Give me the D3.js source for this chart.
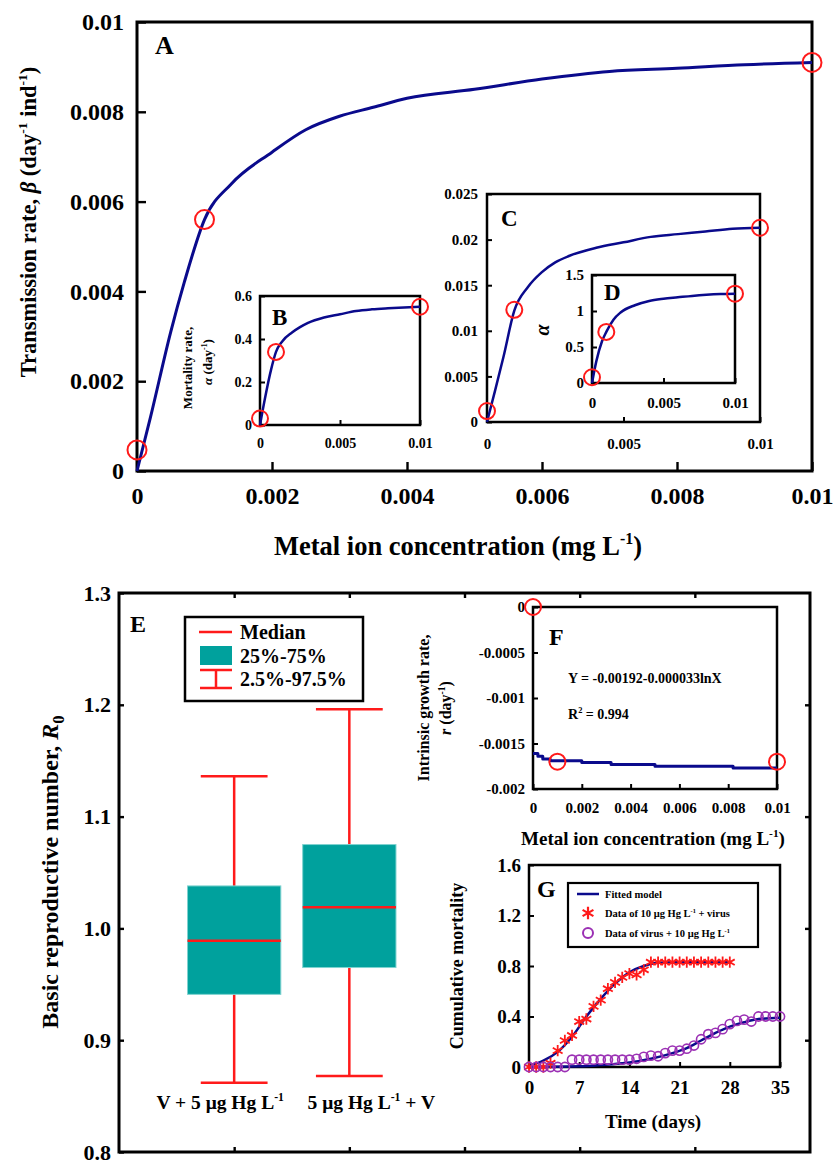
<!DOCTYPE html>
<html>
<head>
<meta charset="utf-8" />
<title>Hg virus model</title>
<script src="https://cdn.jsdelivr.net/npm/d3@7"></script>
<style>
body { margin: 0; background: #fff; }
svg text { font-family: "Liberation Serif", "Times New Roman", serif; font-weight: bold; fill: #000; }
</style>
</head>
<body>
<svg width="837" height="1167"></svg>
<script>
// ---- data ----
var concA = [0, 0.0002, 0.0005, 0.0007, 0.001, 0.0014, 0.002, 0.0025, 0.003, 0.0035, 0.004, 0.005, 0.006, 0.007, 0.008, 0.009, 0.01];
var betaA = [0, 0.0012, 0.0031, 0.0042, 0.0056, 0.0064, 0.0071, 0.0076, 0.0079, 0.0081, 0.0083, 0.0085, 0.00873, 0.0089, 0.00897, 0.00905, 0.0091];
var obsConc = [0, 0.001, 0.01];
var obsBetaA = [0.00047, 0.0056, 0.0091];

var concB = [0, 0.0003, 0.0007, 0.001, 0.0014, 0.002, 0.0025, 0.003, 0.004, 0.005, 0.006, 0.007, 0.008, 0.009, 0.01];
var alphaB = [0, 0.12, 0.26, 0.34, 0.39, 0.43, 0.455, 0.475, 0.5, 0.515, 0.53, 0.538, 0.543, 0.547, 0.55];
var obsAlphaB = [0.03, 0.34, 0.55];

var concC = [0, 0.0003, 0.0006, 0.001, 0.0015, 0.002, 0.0025, 0.003, 0.004, 0.005, 0.006, 0.007, 0.008, 0.009, 0.01];
var betaC = [0, 0.0035, 0.0071, 0.0122, 0.0148, 0.0164, 0.0175, 0.0182, 0.0191, 0.0197, 0.0203, 0.0206, 0.0209, 0.0212, 0.0213];
var obsBetaC = [0.0012, 0.0123, 0.0213];

var concD = [0, 0.0003, 0.0007, 0.001, 0.0015, 0.002, 0.003, 0.004, 0.005, 0.006, 0.007, 0.008, 0.009, 0.01];
var alphaD = [0, 0.3, 0.58, 0.71, 0.88, 0.98, 1.08, 1.14, 1.17, 1.19, 1.21, 1.225, 1.235, 1.24];
var obsAlphaD = [0.08, 0.71, 1.24];

var groupsE = ["V + 5 μg Hg L-1", "5 μg Hg L-1 + V"];
var p025 = [0.862, 0.868];
var q25 = [0.941, 0.965];
var medianE = [0.989, 1.019];
var q75 = [1.038, 1.075];
var p975 = [1.136, 1.196];

var concF = [0, 0.0002, 0.0004, 0.0007, 0.002, 0.0032, 0.005, 0.0082, 0.01];
var rF = [-0.00161, -0.00164, -0.00167, -0.00169, -0.00171, -0.00173, -0.00175, -0.00177, -0.00177];
var obsRF = [0, -0.0017, -0.0017];

var daysHg = d3.range(0, 29);
var mortHg = [0, 0, 0, 0.03, 0.13, 0.21, 0.25, 0.36, 0.38, 0.48, 0.53, 0.62, 0.67, 0.71, 0.74, 0.73, 0.77, 0.83,
  0.83, 0.83, 0.83, 0.83, 0.83, 0.83, 0.83, 0.83, 0.83, 0.83, 0.83];
var daysV = d3.range(0, 36);
var mortV = [0, 0, 0, 0, 0, 0, 0.058, 0.058, 0.058, 0.058, 0.058, 0.058, 0.058, 0.058, 0.058, 0.065, 0.08, 0.09,
  0.085, 0.11, 0.13, 0.13, 0.145, 0.17, 0.22, 0.26, 0.27, 0.30, 0.34, 0.365, 0.375, 0.36, 0.40, 0.40, 0.40, 0.40];
var fitDaysHg = [0, 2, 4, 6, 8, 10, 12, 14, 16, 18, 20, 22, 24, 26, 28];
var fitHg = [0.01, 0.05, 0.12, 0.24, 0.40, 0.54, 0.66, 0.75, 0.80, 0.825, 0.83, 0.83, 0.83, 0.83, 0.83];
var fitDaysV = [0, 7, 10, 14, 17, 20, 22, 24, 26, 28, 30, 32, 35];
var fitV = [0, 0.005, 0.015, 0.035, 0.065, 0.11, 0.15, 0.21, 0.27, 0.32, 0.355, 0.38, 0.39];

var NAVY = "#0a0a8c", RED = "#ff1a1a", TEAL = "#00a19d", PURPLE = "#9b30b4";

var svg = d3.select("svg");
var num = function (d) { return String(+d.toFixed(5)); };

// text with superscripts / italics / subscripts
function rich(sel, parts, fs) {
  var shift = 0;
  parts.forEach(function (p) {
    var t = sel.append("tspan");
    var want = 0, txt = p;
    if (typeof p !== "string") {
      if (p.sup !== undefined) { want = -fs * 0.4; txt = p.sup; t.attr("font-size", fs * 0.6); }
      else if (p.sub !== undefined) { want = fs * 0.25; txt = p.sub; t.attr("font-size", fs * 0.7); }
      else if (p.it !== undefined) { txt = p.it; t.attr("font-style", "italic"); }
    }
    if (want !== shift) { t.attr("dy", want - shift); shift = want; }
    t.text(txt);
  });
  return sel;
}
function label(x, y, parts, fs, opts) {
  opts = opts || {};
  var t = svg.append("text").attr("font-size", fs).attr("text-anchor", opts.anchor || "middle");
  if (opts.rotate) t.attr("transform", "translate(" + x + "," + y + ") rotate(-90)");
  else t.attr("x", x).attr("y", y);
  return rich(t, parts, fs);
}

// a framed panel with inward ticks
function panel(o) {
  var x = d3.scaleLinear().domain(o.xDomain).range(o.xRange);
  var y = d3.scaleLinear().domain(o.yDomain).range(o.yRange);
  var g = svg.append("g");
  g.append("rect")
    .attr("x", o.xRange[0]).attr("y", o.yRange[1])
    .attr("width", o.xRange[1] - o.xRange[0]).attr("height", o.yRange[0] - o.yRange[1])
    .attr("fill", "#fff");
  var gx = g.append("g").attr("transform", "translate(0," + o.yRange[0] + ")")
    .call(d3.axisBottom(x).tickValues(o.xTicks).tickSize(-o.tick).tickPadding(o.xPad)
      .tickFormat(o.xFmt || num));
  var gy = g.append("g").attr("transform", "translate(" + o.xRange[0] + ",0)")
    .call(d3.axisLeft(y).tickValues(o.yTicks).tickSize(-o.tick).tickPadding(o.yPad)
      .tickFormat(o.yFmt || num));
  [gx, gy].forEach(function (a) {
    a.select(".domain").remove();
    a.attr("font-size", o.fs).attr("font-family", null);
    a.selectAll("line").attr("stroke", "#000").attr("stroke-width", o.sw * 0.8);
  });
  g.append("rect")
    .attr("x", o.xRange[0]).attr("y", o.yRange[1])
    .attr("width", o.xRange[1] - o.xRange[0]).attr("height", o.yRange[0] - o.yRange[1])
    .attr("fill", "none").attr("stroke", "#000").attr("stroke-width", o.sw);
  return { x: x, y: y, g: g, gx: gx, gy: gy };
}

function curve(p, xs, ys, color, w, kind) {
  p.g.append("path")
    .datum(d3.zip(xs, ys))
    .attr("fill", "none").attr("stroke", color).attr("stroke-width", w)
    .attr("stroke-linejoin", "round")
    .attr("d", d3.line().x(function (d) { return p.x(d[0]); }).y(function (d) { return p.y(d[1]); })
      .curve(kind || d3.curveMonotoneX));
}
function rings(p, xs, ys, r, color, w) {
  p.g.selectAll(null).data(d3.zip(xs, ys)).enter().append("circle")
    .attr("cx", function (d) { return p.x(d[0]); }).attr("cy", function (d) { return p.y(d[1]); })
    .attr("r", r).attr("fill", "none").attr("stroke", color).attr("stroke-width", w);
}

// ---- panel A ----
var A = panel({ xDomain: [0, 0.01], xRange: [137, 812], yDomain: [0, 0.01], yRange: [471, 22],
  xTicks: [0, 0.002, 0.004, 0.006, 0.008, 0.01], yTicks: [0, 0.002, 0.004, 0.006, 0.008, 0.01],
  tick: 9, xPad: 16, yPad: 13, fs: 24, sw: 3 });
curve(A, concA, betaA, NAVY, 3);
rings(A, obsConc, obsBetaA, 9.5, RED, 2);
label(155, 54, ["A"], 26, { anchor: "start" });
label(36, 222, ["Transmission rate, ", { it: "β" }, " (day", { sup: "-1" }, " ind", { sup: "-1" }, ")"], 22.5, { rotate: true });
label(458, 555, ["Metal ion concentration (mg L", { sup: "-1" }, ")"], 26.5);

// ---- inset B ----
var B = panel({ xDomain: [0, 0.01], xRange: [260, 420], yDomain: [0, 0.6], yRange: [425, 296],
  xTicks: [0, 0.005, 0.01], yTicks: [0, 0.2, 0.4, 0.6], tick: 5, xPad: 13, yPad: 8, fs: 14, sw: 2.5 });
curve(B, concB, alphaB, NAVY, 2.5);
rings(B, obsConc, obsAlphaB, 8, RED, 2);
label(272, 325, ["B"], 23, { anchor: "start" });
label(192, 368, ["Mortality rate,"], 13, { rotate: true });
label(212, 362, [{ it: "α" }, " (day", { sup: "-1" }, ")"], 13, { rotate: true });

// ---- inset C ----
var C = panel({ xDomain: [0, 0.01], xRange: [487, 760], yDomain: [0, 0.025], yRange: [422, 194],
  xTicks: [0, 0.005, 0.01], yTicks: [0, 0.005, 0.01, 0.015, 0.02, 0.025], tick: 5, xPad: 16, yPad: 9, fs: 15, sw: 2.5 });
curve(C, concC, betaC, NAVY, 2.5);
rings(C, obsConc, obsBetaC, 8, RED, 2);
label(501, 226, ["C"], 23, { anchor: "start" });

// ---- inset D ----
var D = panel({ xDomain: [0, 0.01], xRange: [592, 735], yDomain: [0, 1.5], yRange: [383, 275],
  xTicks: [0, 0.005, 0.01], yTicks: [0, 0.5, 1, 1.5], tick: 5, xPad: 14, yPad: 8, fs: 15, sw: 2.5 });
curve(D, concD, alphaD, NAVY, 2.5);
rings(D, obsConc, obsAlphaD, 8, RED, 2);
label(604, 300, ["D"], 23, { anchor: "start" });
label(549, 330, [{ it: "α" }], 20, { rotate: true });

// ---- panel E (outer frame) ----
var E = panel({ xDomain: [0, 6], xRange: [119, 810], yDomain: [0.8, 1.3], yRange: [1152, 593],
  xTicks: [1, 2, 3, 4, 5], yTicks: [0.8, 0.9, 1.0, 1.1, 1.2, 1.3], tick: 5, xPad: 8, yPad: 8, fs: 22, sw: 3,
  xFmt: function () { return ""; }, yFmt: d3.format(".1f") });
// mirrored ticks on top and right
E.g.append("g").attr("transform", "translate(0,593)")
  .call(d3.axisTop(E.x).tickValues([1, 2, 3, 4, 5]).tickSize(-5).tickFormat(""))
  .call(function (a) { a.select(".domain").remove(); a.selectAll("line").attr("stroke-width", 2.4); });
E.g.append("g").attr("transform", "translate(810,0)")
  .call(d3.axisRight(E.y).tickValues([0.9, 1.0, 1.1, 1.2]).tickSize(-5).tickFormat(""))
  .call(function (a) { a.select(".domain").remove(); a.selectAll("line").attr("stroke-width", 2.4); });

var boxW = 0.81, capW = 0.58;
groupsE.forEach(function (gname, i) {
  var c = i + 1;
  var bx = E.g.append("g");
  bx.append("line").attr("x1", E.x(c)).attr("x2", E.x(c)).attr("y1", E.y(p025[i])).attr("y2", E.y(p975[i]))
    .attr("stroke", RED).attr("stroke-width", 2.5);
  [p025[i], p975[i]].forEach(function (v) {
    bx.append("line").attr("x1", E.x(c - capW / 2)).attr("x2", E.x(c + capW / 2))
      .attr("y1", E.y(v)).attr("y2", E.y(v)).attr("stroke", RED).attr("stroke-width", 2.5);
  });
  bx.append("rect").attr("x", E.x(c - boxW / 2)).attr("width", E.x(c + boxW / 2) - E.x(c - boxW / 2))
    .attr("y", E.y(q75[i])).attr("height", E.y(q25[i]) - E.y(q75[i]))
    .attr("fill", TEAL).attr("stroke", "#7fd3d0").attr("stroke-width", 1);
  bx.append("line").attr("x1", E.x(c - boxW / 2)).attr("x2", E.x(c + boxW / 2))
    .attr("y1", E.y(medianE[i])).attr("y2", E.y(medianE[i])).attr("stroke", RED).attr("stroke-width", 2.5);
});
// category labels sit slightly outward of the box centres
label(E.x(1) - 14, 1109, ["V + 5 μg Hg L", { sup: "-1" }], 19.5);
label(E.x(2) + 22, 1109, ["5 μg Hg L", { sup: "-1" }, " + V"], 19.5);
label(130, 632, ["E"], 24, { anchor: "start" });
label(58, 872, ["Basic reproductive number, ", { it: "R" }, { sub: "0" }], 24, { rotate: true });

// legend E
var lg = svg.append("g");
lg.append("rect").attr("x", 185).attr("y", 617).attr("width", 178).attr("height", 84)
  .attr("fill", "#fff").attr("stroke", "#000").attr("stroke-width", 2.5);
lg.append("line").attr("x1", 199).attr("x2", 232).attr("y1", 632).attr("y2", 632).attr("stroke", RED).attr("stroke-width", 2.5);
lg.append("rect").attr("x", 200).attr("y", 646).attr("width", 32).attr("height", 19).attr("fill", TEAL);
lg.append("line").attr("x1", 216).attr("x2", 216).attr("y1", 670).attr("y2", 688).attr("stroke", RED).attr("stroke-width", 2.5);
[670, 688].forEach(function (yy) {
  lg.append("line").attr("x1", 200).attr("x2", 232).attr("y1", yy).attr("y2", yy).attr("stroke", RED).attr("stroke-width", 2.5);
});
label(240, 639, ["Median"], 20, { anchor: "start" });
label(240, 663, ["25%-75%"], 20, { anchor: "start" });
label(240, 686, ["2.5%-97.5%"], 20, { anchor: "start" });

// ---- panel F ----
var F = panel({ xDomain: [0, 0.01], xRange: [533, 777], yDomain: [-0.002, 0], yRange: [789, 607],
  xTicks: [0, 0.002, 0.004, 0.006, 0.008, 0.01], yTicks: [-0.002, -0.0015, -0.001, -0.0005, 0],
  tick: 5, xPad: 13, yPad: 8, fs: 15, sw: 2.5 });
curve(F, concF, rF, NAVY, 3, d3.curveStepAfter);
rings(F, obsConc, obsRF, 8, RED, 2);
label(549, 645, ["F"], 24, { anchor: "start" });
label(568, 683, ["Y = -0.00192-0.000033lnX"], 14, { anchor: "start" });
label(568, 719, ["R", { sup: "2" }, " = 0.994"], 14, { anchor: "start" });
label(429, 708, ["Intrinsic growth rate,"], 16, { rotate: true });
label(451, 708, [{ it: "r" }, " (day", { sup: "-1" }, ")"], 16, { rotate: true });
label(653, 845, ["Metal ion concentration (mg L", { sup: "-1" }, ")"], 19);

// ---- panel G ----
var G = panel({ xDomain: [0, 35], xRange: [529, 780], yDomain: [0, 1.6], yRange: [1067, 865],
  xTicks: [0, 7, 14, 21, 28, 35], yTicks: [0, 0.4, 0.8, 1.2, 1.6],
  tick: 5, xPad: 14, yPad: 8, fs: 19, sw: 2.5 });
curve(G, fitDaysHg, fitHg, NAVY, 2.5);
curve(G, fitDaysV, fitV, NAVY, 2.5);
var star = d3.symbol().type(d3.symbolAsterisk).size(90);
G.g.selectAll(null).data(d3.zip(daysHg, mortHg)).enter().append("path")
  .attr("d", star).attr("transform", function (d) { return "translate(" + G.x(d[0]) + "," + G.y(d[1]) + ")"; })
  .attr("fill", "none").attr("stroke", RED).attr("stroke-width", 1.8);
rings(G, daysV, mortV, 4.6, PURPLE, 1.6);
label(537, 897, ["G"], 24, { anchor: "start" });
label(463, 966, ["Cumulative mortality"], 18, { rotate: true });
label(653, 1128, ["Time (days)"], 19);

// legend G
var lgG = svg.append("g");
lgG.append("rect").attr("x", 568).attr("y", 883).attr("width", 190).attr("height", 64)
  .attr("fill", "#fff").attr("stroke", "#000").attr("stroke-width", 2.2);
lgG.append("line").attr("x1", 577).attr("x2", 599).attr("y1", 894).attr("y2", 894).attr("stroke", NAVY).attr("stroke-width", 2.5);
lgG.append("path").attr("d", d3.symbol().type(d3.symbolAsterisk).size(110)).attr("transform", "translate(588,913)")
  .attr("fill", "none").attr("stroke", RED).attr("stroke-width", 2.2);
lgG.append("circle").attr("cx", 588).attr("cy", 933).attr("r", 5)
  .attr("fill", "none").attr("stroke", PURPLE).attr("stroke-width", 2);
label(605, 898, ["Fitted model"], 10.5, { anchor: "start" });
label(605, 917, ["Data of 10 μg Hg L", { sup: "-1" }, " + virus"], 10.5, { anchor: "start" });
label(605, 937, ["Data of virus + 10 μg Hg L", { sup: "-1" }], 10.5, { anchor: "start" });
</script>
</body>
</html>
